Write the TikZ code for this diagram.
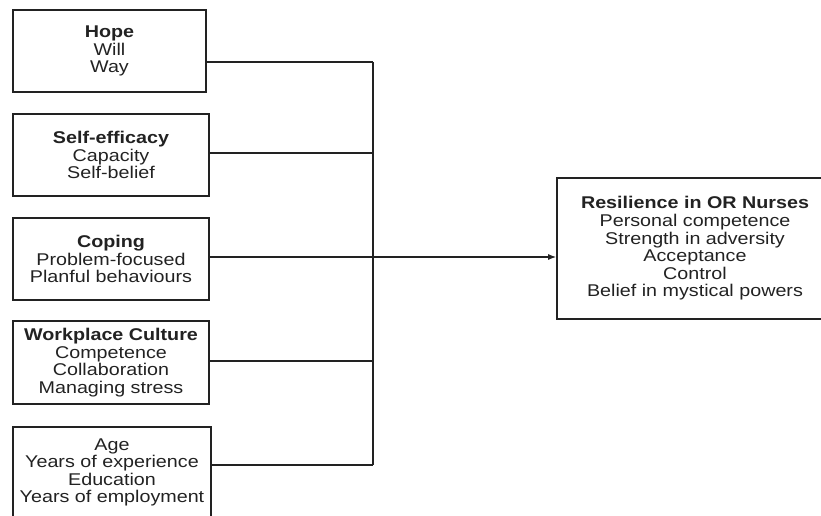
\documentclass[tikz,border=0pt]{standalone}
\usepackage{fontspec}
\setmainfont{Liberation Sans}[FakeStretch=1.16]
\usetikzlibrary{arrows.meta}
\definecolor{ink}{HTML}{222222}
\tikzset{
  factor/.style={draw=ink, line width=1.6pt, align=center, text=ink,
    inner sep=0pt, font={\fontsize{17}{17.6}\selectfont}},
  link/.style={draw=ink, line width=1.3pt},
  arrowlink/.style={link, -{Latex[length=8pt,width=6pt]}}
}
\begin{document}
\begin{tikzpicture}[x=1pt,y=-1pt]
\useasboundingbox (0,0) rectangle (821,516);
\clip (0,0) rectangle (821,516);

% predictor boxes
\node[factor, minimum width=193pt, minimum height=82pt] (hope) at (109.5,51)
  {\textbf{Hope}\\Will\\Way};
\node[factor, minimum width=196pt, minimum height=82pt] (self) at (111,155)
  {\textbf{Self-efficacy}\\Capacity\\Self-belief};
\node[factor, minimum width=196pt, minimum height=82pt] (coping) at (111,259)
  {\textbf{Coping}\\Problem-focused\\Planful behaviours};
\node[factor, minimum width=196pt, minimum height=83pt] (culture) at (111,362.5)
  {\textbf{Workplace Culture}\\Competence\\Collaboration\\Managing stress};
\node[factor, minimum width=198pt, minimum height=91pt] (demo) at (112,472.5)
  {Age\\Years of experience\\Education\\Years of employment};

% outcome box
\node[factor, minimum width=276pt, minimum height=141pt] (res) at (695,248.5)
  {\textbf{Resilience in OR Nurses}\\Personal competence\\Strength in adversity\\Acceptance\\Control\\Belief in mystical powers};

% junctions on the collecting bus
\coordinate (j1) at (373,62);
\coordinate (j2) at (373,153);
\coordinate (j3) at (373,257);
\coordinate (j4) at (373,361);
\coordinate (j5) at (373,465);

\draw[link] (hope.east |- j1) -- (j1);
\draw[link] (self.east |- j2) -- (j2);
\draw[link] (coping.east |- j3) -- (j3);
\draw[link] (culture.east |- j4) -- (j4);
\draw[link] (demo.east |- j5) -- (j5);
\draw[link] (j1) -- (j5);
\draw[arrowlink] (j3) -- (res.west |- j3);
\end{tikzpicture}
\end{document}
